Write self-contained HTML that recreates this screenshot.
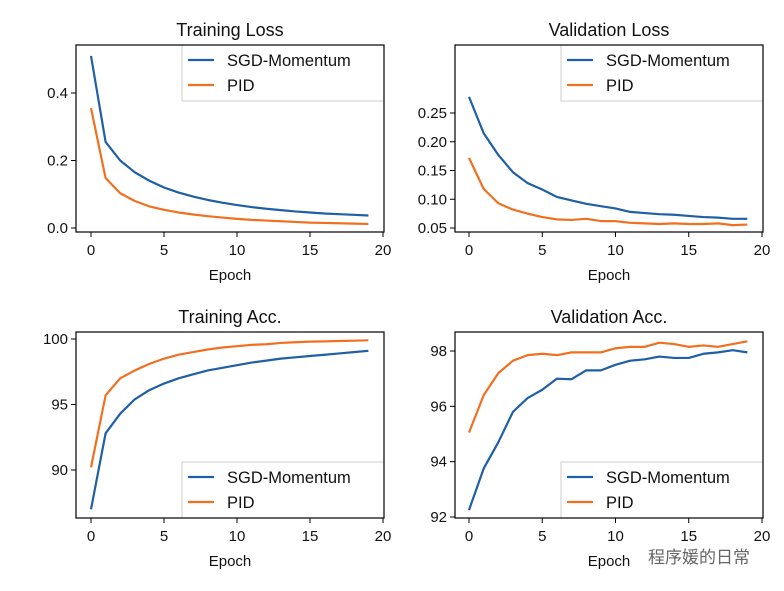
<!DOCTYPE html>
<html><head><meta charset="utf-8"><style>
body{margin:0;background:#fff;}
svg{display:block;font-family:"Liberation Sans","DejaVu Sans","Noto Sans CJK SC",sans-serif;}
</style></head><body>
<svg id="fig" width="784" height="591" viewBox="0 0 784 591"></svg>
<script>
const epochs=[0,1,2,3,4,5,6,7,8,9,10,11,12,13,14,15,16,17,18,19];
const xTicks=[0,5,10,15,20];
const trainLossSGD=[.51,.255,.20,.165,.14,.12,.105,.093,.083,.075,.068,.062,.057,.053,.049,.046,.043,.041,.039,.037];
const trainLossPID=[.355,.148,.103,.08,.064,.054,.046,.04,.035,.031,.027,.024,.022,.02,.018,.016,.015,.014,.013,.012];
const valLossSGD=[.278,.215,.177,.147,.128,.117,.104,.098,.092,.088,.084,.078,.076,.074,.073,.071,.069,.068,.066,.066];
const valLossPID=[.172,.118,.093,.082,.075,.069,.065,.064,.066,.062,.062,.059,.058,.057,.058,.057,.057,.058,.055,.056];
const trainAccSGD=[87,92.8,94.3,95.4,96.1,96.6,97.0,97.3,97.6,97.8,98.0,98.2,98.35,98.5,98.6,98.7,98.8,98.9,99.0,99.1];
const trainAccPID=[90.2,95.7,97.0,97.6,98.1,98.5,98.8,99.0,99.2,99.35,99.45,99.55,99.6,99.7,99.75,99.8,99.82,99.85,99.87,99.9];
const valAccSGD=[92.25,93.75,94.7,95.8,96.3,96.6,97.0,96.98,97.3,97.3,97.5,97.65,97.7,97.8,97.75,97.75,97.9,97.95,98.03,97.95];
const valAccPID=[95.05,96.4,97.2,97.65,97.85,97.9,97.85,97.95,97.95,97.95,98.1,98.15,98.15,98.3,98.25,98.15,98.2,98.15,98.25,98.35];
const trainLossTicks=["0.0","0.2","0.4"];
const valLossTicks=["0.05","0.10","0.15","0.20","0.25"];
const trainAccTicks=["90","95","100"];
const valAccTicks=["92","94","96","98"];
const seriesNames=["SGD-Momentum","PID"];

const NS="http://www.w3.org/2000/svg";
const svg=document.getElementById('fig');
function el(tag,attrs,parent,text){const e=document.createElementNS(NS,tag);for(const k in attrs)e.setAttribute(k,attrs[k]);if(text!==undefined)e.textContent=text;(parent||svg).appendChild(e);return e;}
const BLUE="#1f5fa6",ORANGE="#f07020";
function panel(o){
  const g=el('g',{});
  
  
  const X=v=>o.x0+(v-0)*(o.x20-o.x0)/20;
  const Y=v=>o.ya+(v-o.va)*(o.yb-o.ya)/(o.vb-o.va);
  const t=el('text',{x:(o.L+o.R)/2,y:o.T-9,'text-anchor':'middle','font-size':18,fill:'#111'},g,o.title);
  
  
  [[o.s1,BLUE],[o.s2,ORANGE]].forEach((s,i)=>{
    const vals=s[0];
    const p=el('polyline',{points:epochs.map((e,j)=>X(e)+','+Y(vals[j])).join(' '),fill:'none',stroke:s[1],'stroke-width':2.2,'stroke-linejoin':'round'},g);
    
    
  });
  const lg=el('g',{},g);
  
  
  const ly=o.legTop?o.T:o.B-56;
  el('rect',{x:o.L+106,y:ly,width:o.R-(o.L+106),height:56,fill:'#fff','fill-opacity':0.85,stroke:'#ccc'},lg);
  seriesNames.forEach((n,i)=>{
    const yy=ly+15+i*25;
    el('line',{x1:o.L+112,x2:o.L+138,y1:yy,y2:yy,stroke:i?ORANGE:BLUE,'stroke-width':2.2},lg);
    el('text',{x:o.L+151,y:yy+6,'font-size':16.5,fill:'#111'},lg,n);
  });
  el('rect',{x:o.L,y:o.T,width:o.R-o.L,height:o.B-o.T,fill:'none',stroke:'#000','stroke-width':1.2},g);
  xTicks.forEach(v=>{
    el('line',{x1:X(v),x2:X(v),y1:o.B,y2:o.B+5,stroke:'#000'},g);
    el('text',{x:X(v),y:o.B+23,'text-anchor':'middle','font-size':15,fill:'#111'},g,String(v));
  });
  o.ticks.forEach(s=>{
    const v=parseFloat(s);
    el('line',{x1:o.L-5,x2:o.L,y1:Y(v),y2:Y(v),stroke:'#000'},g);
    el('text',{x:o.L-8,y:Y(v)+5,'text-anchor':'end','font-size':15,fill:'#111'},g,s);
  });
  const xl=el('text',{x:(o.L+o.R)/2,y:o.B+48,'text-anchor':'middle','font-size':15,fill:'#111'},g,'Epoch');
  
  
}
panel({name:'training-loss-panel',title:'Training Loss',L:76,R:384,T:45,B:232,x0:91,x20:383,ya:228,va:0,yb:93,vb:0.4,s1:trainLossSGD,s2:trainLossPID,ticks:trainLossTicks,legTop:true});
panel({name:'validation-loss-panel',title:'Validation Loss',L:455,R:763,T:45,B:232,x0:469,x20:762,ya:228,va:0.05,yb:113,vb:0.25,s1:valLossSGD,s2:valLossPID,ticks:valLossTicks,legTop:true});
panel({name:'training-acc-panel',title:'Training Acc.',L:76,R:384,T:332,B:518,x0:91,x20:383,ya:470,va:90,yb:339,vb:100,s1:trainAccSGD,s2:trainAccPID,ticks:trainAccTicks,legTop:false});
panel({name:'validation-acc-panel',title:'Validation Acc.',L:455,R:763,T:332,B:518,x0:469,x20:762,ya:517,va:92,yb:351,vb:98,s1:valAccSGD,s2:valAccPID,ticks:valAccTicks,legTop:false});
const wm=el('text',{x:648,y:563,'font-size':17,fill:'#666'},svg,'程序媛的日常');


</script>
</body></html>
